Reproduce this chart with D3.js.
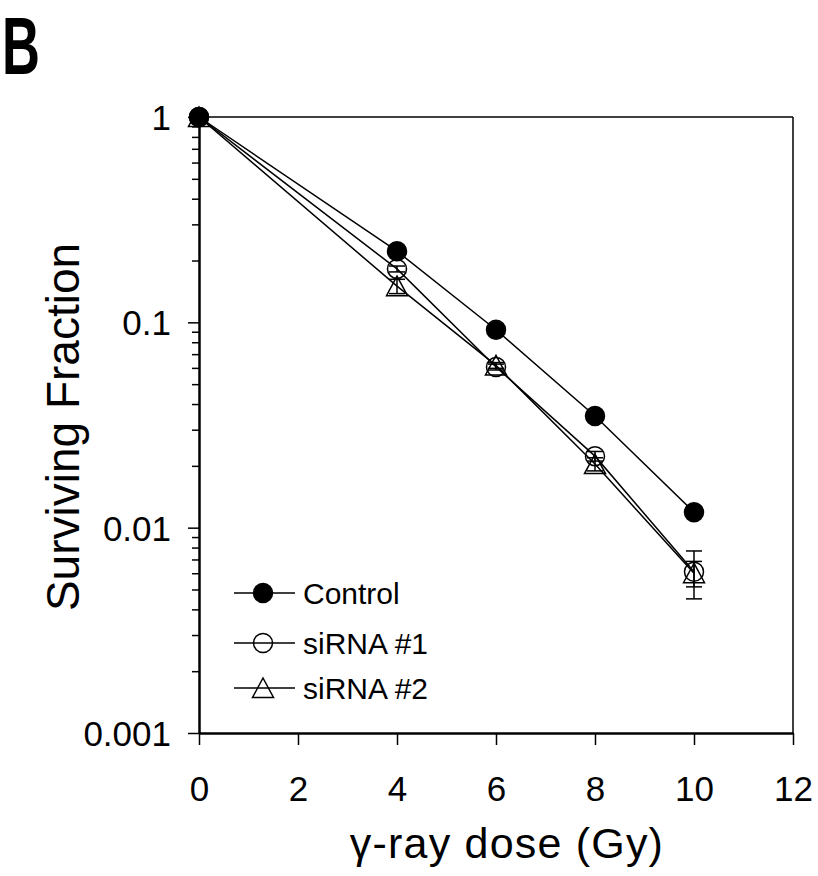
<!DOCTYPE html>
<html>
<head>
<meta charset="utf-8">
<script src="https://d3js.org/d3.v7.min.js"></script>
<style>
  html, body { margin: 0; padding: 0; background: #fff; }
  svg { display: block; font-family: "Liberation Sans", Arial, sans-serif; }
</style>
</head>
<body>
<div id="chart"></div>
<script>
// Data
const doses = [0, 4, 6, 8, 10];
const controlVals = [1, 0.222, 0.092, 0.035, 0.0119];
const controlErr = [0.02, 0.008, 0.003, 0.0012, 0.0005];
const sirna1Vals = [1, 0.182, 0.0606, 0.0223, 0.0061];
const sirna1Err = [0.02, 0.006, 0.002, 0.0012, 0.0016];
const sirna2Vals = [1, 0.150, 0.0617, 0.0204, 0.0060];
const sirna2Err = [0.02, 0.012, 0.002, 0.0015, 0.00085];
const seriesNames = ["Control", "siRNA #1", "siRNA #2"];
const xTicks = [0, 2, 4, 6, 8, 10, 12];
const yTicks = [1, 0.1, 0.01, 0.001];
const yTickLabels = ["1", "0.1", "0.01", "0.001"];

const width = 818, height = 876;
const margin = { left: 199, right: 25, top: 117, bottom: 143 };

const svg = d3.select("#chart").append("svg")
    .attr("width", width)
    .attr("height", height);

const x = d3.scaleLinear().domain([0, 12]).range([margin.left, width - margin.right]);
const y = d3.scaleLog().domain([0.001, 1]).range([height - margin.bottom, margin.top]);

const series = [
  { name: seriesNames[0], vals: controlVals, err: controlErr, sym: "fcircle" },
  { name: seriesNames[1], vals: sirna1Vals, err: sirna1Err, sym: "ocircle" },
  { name: seriesNames[2], vals: sirna2Vals, err: sirna2Err, sym: "triangle" }
];

// panel letter
svg.append("text")
    .attr("transform", "translate(2,74) scale(0.64,1)")
    .attr("font-size", 82)
    .attr("font-weight", "bold")
    .text("B");

// axes
const xAxis = svg.append("g")
    .attr("transform", `translate(0,${y(0.001)})`)
    .call(d3.axisBottom(x).tickValues(xTicks).tickSize(12).tickSizeOuter(0).tickFormat(d3.format("d")));
xAxis.select(".domain").attr("stroke-width", 2.5);
xAxis.selectAll(".tick line").attr("stroke-width", 1.5);
xAxis.selectAll(".tick text")
    .attr("font-size", 35)
    .attr("font-family", "Liberation Sans, Arial, sans-serif")
    .attr("dy", null)
    .attr("y", 68);

const minorTicks = [];
for (let e = -3; e < 0; e++) for (let m = 2; m <= 9; m++) minorTicks.push(m * Math.pow(10, e));

const yAxis = svg.append("g")
    .attr("transform", `translate(${x(0)},0)`)
    .call(d3.axisLeft(y).tickValues(yTicks).tickSize(11).tickSizeOuter(0)
        .tickFormat((d, i) => yTickLabels[i]));
yAxis.select(".domain").attr("stroke-width", 2.5);
yAxis.selectAll(".tick line").attr("stroke-width", 1.5);
yAxis.selectAll(".tick text")
    .attr("font-size", 35)
    .attr("font-family", "Liberation Sans, Arial, sans-serif")
    .attr("x", -28)
    .attr("dy", "0.36em");

svg.append("g")
    .attr("transform", `translate(${x(0)},0)`)
    .call(d3.axisLeft(y).tickValues(minorTicks).tickSize(7).tickFormat(""))
    .call(g => g.select(".domain").remove())
    .selectAll(".tick line").attr("stroke-width", 1.5);

// top and right frame
svg.append("line")
    .attr("x1", x(0)).attr("x2", x(12))
    .attr("y1", y(1)).attr("y2", y(1))
    .attr("stroke", "#000").attr("stroke-width", 1.5);
svg.append("line")
    .attr("x1", x(12)).attr("x2", x(12))
    .attr("y1", y(1)).attr("y2", y(0.001))
    .attr("stroke", "#000").attr("stroke-width", 1.5);

// axis titles
svg.append("text")
    .attr("x", 507)
    .attr("y", 858)
    .attr("text-anchor", "middle")
    .attr("font-size", 43)
    .attr("letter-spacing", 1.2)
    .text("\u03b3-ray dose (Gy)");

svg.append("text")
    .attr("transform", `translate(79,427) rotate(-90)`)
    .attr("text-anchor", "middle")
    .attr("font-size", 46)
    .text("Surviving Fraction");

// symbols
function drawSymbol(g, sym, cx, cy) {
  if (sym === "triangle") {
    const s = 10;
    g.append("path")
      .attr("d", `M${cx},${cy - s} L${cx + s * 1.05},${cy + s * 0.95} L${cx - s * 1.05},${cy + s * 0.95} Z`)
      .attr("fill", "none").attr("stroke", "#000").attr("stroke-width", 1.5);
  } else {
    g.append("circle")
      .attr("cx", cx).attr("cy", cy).attr("r", 9.5)
      .attr("fill", sym === "fcircle" ? "#000" : "none")
      .attr("stroke", "#000").attr("stroke-width", 1.5);
  }
}

const line = d3.line().x(d => x(d[0])).y(d => y(d[1]));
const plot = svg.append("g");
const order = [2, 1, 0];

order.forEach(i => {
  const s = series[i];
  const pts = doses.map((d, j) => [d, s.vals[j]]);
  plot.append("path")
      .datum(pts)
      .attr("d", line)
      .attr("fill", "none")
      .attr("stroke", "#000")
      .attr("stroke-width", 1.5);
});

order.forEach(i => {
  const s = series[i];
  const g = plot.append("g");
  doses.forEach((d, j) => {
    const cx = x(d);
    const hi = y(s.vals[j] + s.err[j]);
    const lo = y(Math.max(s.vals[j] - s.err[j], 1e-4));
    g.append("line").attr("x1", cx).attr("x2", cx).attr("y1", hi).attr("y2", lo)
        .attr("stroke", "#000").attr("stroke-width", 1.5);
    [hi, lo].forEach(yy => g.append("line")
        .attr("x1", cx - 8).attr("x2", cx + 8).attr("y1", yy).attr("y2", yy)
        .attr("stroke", "#000").attr("stroke-width", 1.5));
    drawSymbol(g, s.sym, cx, y(s.vals[j]));
  });
});

// legend
const legendRows = [593, 643, 688];
const legend = svg.append("g");
series.forEach((s, i) => {
  const ly = legendRows[i];
  legend.append("line")
      .attr("x1", 234).attr("x2", 295).attr("y1", ly).attr("y2", ly)
      .attr("stroke", "#000").attr("stroke-width", 1.5);
  drawSymbol(legend, s.sym, 263, ly);
  legend.append("text")
      .attr("x", 303).attr("y", ly + 11)
      .attr("font-size", 30)
      .text(s.name);
});
</script>
</body>
</html>
